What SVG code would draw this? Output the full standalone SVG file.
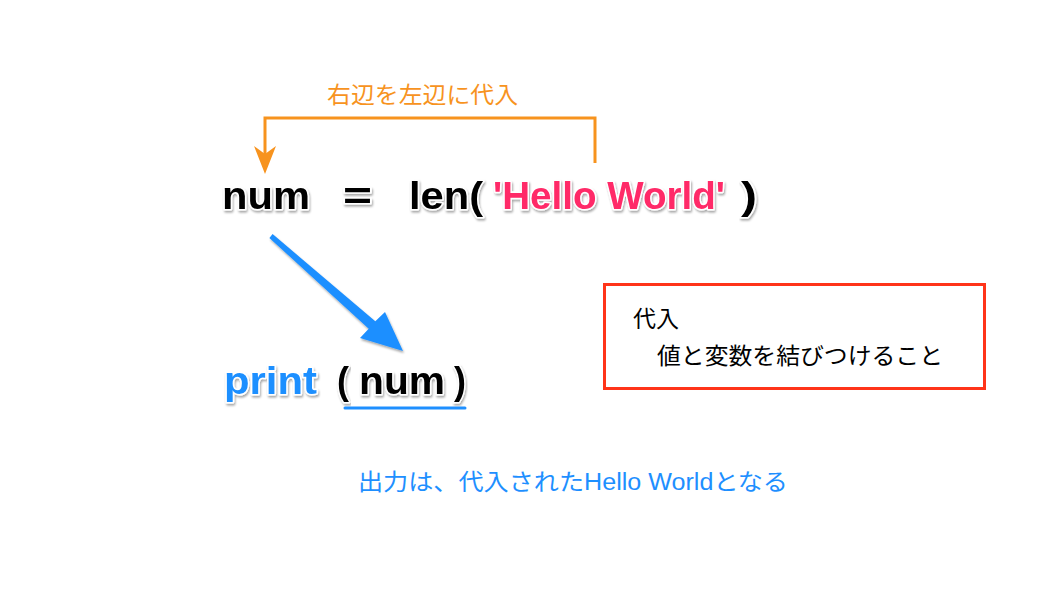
<svg xmlns="http://www.w3.org/2000/svg" width="1051" height="601" viewBox="0 0 1051 601">
  <defs>
    <filter id="shadow" x="-10%" y="-20%" width="120%" height="150%">
      <feDropShadow dx="1" dy="2" stdDeviation="1.2" flood-color="#000" flood-opacity="0.35"/>
    </filter>
  </defs>
  <style>
    .code { font-family: "Liberation Sans", Arial, sans-serif; font-weight: bold; font-size: 39px; stroke: #ffffff; stroke-width: 3; paint-order: stroke; stroke-linejoin: round; filter: url(#shadow); }
    .black { fill: #000000; }
    .pink { fill: #FF2A68; }
    .blue { fill: #1E8FFF; }
    .jp { font-family: "Liberation Sans", "Noto Sans CJK JP", sans-serif; font-size: 23px; }
    .orange-t { fill: #F7931E; }
    .note { fill: #1E8FFF; }
  </style>
  <rect width="1051" height="601" fill="#ffffff"/>

  <g id="label-assign">
    <text class="jp orange-t" x="327" y="103" textLength="191" lengthAdjust="spacingAndGlyphs">右辺を左辺に代入</text>
  </g>

  <g id="connectors">
    <g id="assign-arrow">
      <path d="M595,163 V118 H265 V154" fill="none" stroke="#F7931E" stroke-width="3"/>
      <polygon points="254,146 265,154 276,146 265,174" fill="#F7931E"/>
    </g>
    <g id="value-arrow">
      <polygon points="272.6,234.1 375.3,321.2 385,312 403,351 360,338 368.7,328.8 269.4,237.9" fill="#1E8FFF" filter="url(#shadow)"/>
    </g>
  </g>

  <g id="assignment">
    <text class="code black" x="222" y="209" textLength="88" lengthAdjust="spacingAndGlyphs">num</text>
    <text class="code black" x="343" y="209" textLength="29" lengthAdjust="spacingAndGlyphs">=</text>
    <text class="code black" x="409" y="209" textLength="74" lengthAdjust="spacingAndGlyphs">len(</text>
    <text class="code pink" x="493" y="209" textLength="232" lengthAdjust="spacingAndGlyphs">'Hello World'</text>
    <text class="code black" x="741" y="209" textLength="16" lengthAdjust="spacingAndGlyphs">)</text>
  </g>

  <g id="print-call">
    <text class="code blue" x="224" y="394" textLength="93" lengthAdjust="spacingAndGlyphs">print</text>
    <text class="code black" x="337" y="394" textLength="12" lengthAdjust="spacingAndGlyphs">(</text>
    <text class="code black" x="359" y="394" textLength="86" lengthAdjust="spacingAndGlyphs">num</text>
    <text class="code black" x="454" y="394" textLength="12" lengthAdjust="spacingAndGlyphs">)</text>
    <line x1="345" y1="408" x2="465" y2="408" stroke="#1E8FFF" stroke-width="3" stroke-linecap="round"/>
  </g>

  <g id="definition-box">
    <rect x="604.5" y="284.5" width="380" height="104" fill="#ffffff" stroke="#FF3419" stroke-width="3"/>
    <text class="jp" fill="#000" x="633" y="327" font-size="22">代入</text>
    <text class="jp" fill="#000" x="657" y="364" textLength="286" lengthAdjust="spacingAndGlyphs">値と変数を結びつけること</text>
  </g>

  <g id="output-note">
    <text class="jp note" x="358" y="490" textLength="430" lengthAdjust="spacingAndGlyphs">出力は、代入されたHello Worldとなる</text>
  </g>
</svg>
